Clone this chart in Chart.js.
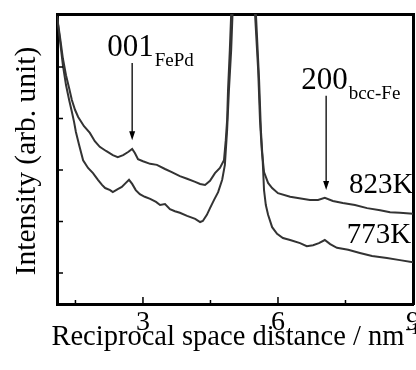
<!DOCTYPE html>
<html>
<head>
<meta charset="utf-8">
<script src="https://cdn.jsdelivr.net/npm/chart.js@4.4.1/dist/chart.umd.min.js"></script>
<style>
  html, body { margin: 0; padding: 0; background: #fff; overflow: hidden; }
</style>
</head>
<body>
<canvas id="chart" width="416" height="370"></canvas>
<script>
// x: reciprocal space distance (nm^-1), y: intensity (arb. unit)
const X_MIN = 1.09, X_MAX = 9.0;
const Y_MIN = -0.602, Y_MAX = 5.03;

const xTickLabels = [3, 6, 9];
const xMinorTicks = [1.5, 4.5, 7.5];
const yTicks = [0, 1, 2, 3, 4];

const x823 = [1.09,1.16,1.22,1.29,1.36,1.42,1.49,1.56,1.69,1.82,1.93,2.04,2.18,2.33,2.44,2.56,2.67,2.76,2.82,2.89,
              3.00,3.16,3.31,3.49,3.64,3.82,3.98,4.16,4.27,4.38,4.49,4.60,4.71,4.80,4.84,4.87,4.89,4.93,4.96,5.22,
              5.49,5.56,5.60,5.64,5.69,5.78,5.87,6.00,6.27,6.71,6.89,7.04,7.22,7.44,7.71,7.98,8.27,8.49,8.71,9.00];
const y823 = [4.99,4.56,4.17,3.84,3.59,3.36,3.17,3.03,2.85,2.72,2.56,2.45,2.37,2.29,2.25,2.29,2.35,2.41,2.33,2.21,
              2.17,2.12,2.10,2.02,1.96,1.88,1.83,1.77,1.73,1.71,1.79,1.94,2.04,2.19,2.58,2.97,3.55,4.33,5.03,9.0,
              5.03,3.94,2.97,2.39,1.96,1.75,1.65,1.55,1.48,1.42,1.42,1.46,1.40,1.36,1.32,1.26,1.22,1.18,1.17,1.15];

const x773 = [1.09,1.16,1.22,1.29,1.36,1.42,1.47,1.51,1.58,1.67,1.78,1.89,2.00,2.09,2.16,2.27,2.33,2.44,2.53,2.62,
              2.69,2.76,2.84,2.93,3.04,3.16,3.29,3.38,3.49,3.60,3.71,3.82,3.98,4.16,4.27,4.33,4.42,4.49,4.58,4.67,
              4.76,4.82,4.87,4.91,4.96,4.99,5.22,5.51,5.58,5.62,5.66,5.69,5.73,5.78,5.87,5.98,6.11,6.27,6.49,6.64,
              6.78,6.91,7.04,7.16,7.31,7.56,7.82,8.09,8.42,8.71,9.00];
const y773 = [4.99,4.49,4.04,3.65,3.36,3.13,2.93,2.74,2.49,2.19,2.04,1.94,1.81,1.71,1.65,1.61,1.57,1.63,1.67,1.75,
              1.81,1.73,1.61,1.53,1.48,1.44,1.38,1.32,1.34,1.24,1.20,1.17,1.11,1.05,0.99,1.01,1.13,1.26,1.42,1.57,
              1.81,2.10,2.78,3.55,4.33,5.03,9.0,5.03,3.75,2.78,2.19,1.61,1.32,1.13,0.89,0.76,0.68,0.64,0.58,0.52,
              0.54,0.58,0.64,0.56,0.49,0.45,0.39,0.33,0.29,0.25,0.21];

// peak markers (arrow x, arrow top, arrow tip)
const peakNames = ['001', '200'];
const peakPhases = ['FePd', 'bcc-Fe'];
const peakX = [2.76, 7.07];
const arrowFrom = [4.08, 3.44];
const arrowTo = [2.58, 1.61];

const tempNames = ['823K', '773K'];
const tempX = [7.58, 7.53];
const tempY = [1.55, 0.58];

const SERIF = '"Liberation Serif", "Times New Roman", serif';

const toXY = (xs, ys) => xs.map((v, i) => ({ x: v, y: ys[i] }));

const decor = {
  id: 'decor',
  afterDraw(chart) {
    const { ctx, chartArea: a } = chart;
    const x = chart.scales.x, y = chart.scales.y;
    ctx.save();
    ctx.strokeStyle = '#000';
    ctx.fillStyle = '#000';

    // inward ticks
    ctx.lineWidth = 1.5;
    ctx.beginPath();
    xTickLabels.forEach(v => { const p = x.getPixelForValue(v); ctx.moveTo(p, a.bottom); ctx.lineTo(p, a.bottom - 7); });
    xMinorTicks.forEach(v => { const p = x.getPixelForValue(v); ctx.moveTo(p, a.bottom); ctx.lineTo(p, a.bottom - 4); });
    yTicks.forEach(v => { const p = y.getPixelForValue(v); ctx.moveTo(a.left, p); ctx.lineTo(a.left + 6, p); });
    ctx.stroke();

    // arrows + peak labels
    peakNames.forEach((name, i) => {
      const px = x.getPixelForValue(peakX[i]);
      const top = y.getPixelForValue(arrowFrom[i]);
      const tip = y.getPixelForValue(arrowTo[i]);
      ctx.lineWidth = 1.3;
      ctx.beginPath();
      ctx.moveTo(px, top);
      ctx.lineTo(px, tip - 6);
      ctx.stroke();
      ctx.beginPath();
      ctx.moveTo(px - 3, tip - 9);
      ctx.lineTo(px + 3, tip - 9);
      ctx.lineTo(px, tip);
      ctx.closePath();
      ctx.fill();

      ctx.textAlign = 'left';
      ctx.textBaseline = 'alphabetic';
      ctx.font = '31px ' + SERIF;
      const tx = px - 25, ty = top - 7;
      ctx.fillText(name, tx, ty);
      const w = ctx.measureText(name).width;
      ctx.font = '19px ' + SERIF;
      ctx.fillText(peakPhases[i], tx + w + 1, ty + 10);
    });

    // temperature labels
    ctx.font = '29px ' + SERIF;
    tempNames.forEach((t, i) => {
      ctx.fillText(t, x.getPixelForValue(tempX[i]), y.getPixelForValue(tempY[i]));
    });

    // axis titles
    ctx.font = '28.5px ' + SERIF;
    const main = 'Reciprocal space distance / nm';
    const mw = ctx.measureText(main).width;
    ctx.font = '17px ' + SERIF;
    const sup = '-1';
    const sw = ctx.measureText(sup).width;
    const cx = (a.left + a.right) / 2;
    const sx = cx - (mw + sw) / 2;
    ctx.font = '28.5px ' + SERIF;
    ctx.fillText(main, sx, 345);
    ctx.font = '17px ' + SERIF;
    ctx.fillText(sup, sx + mw + 1, 334);

    ctx.font = '29.5px ' + SERIF;
    ctx.textAlign = 'center';
    ctx.translate(35, (a.top + a.bottom) / 2 + 2);
    ctx.rotate(-Math.PI / 2);
    ctx.fillText('Intensity (arb. unit)', 0, 0);
    ctx.restore();
  }
};

const frameAxis = (pos, fit) => ({
  type: 'linear', position: pos, display: true,
  ticks: { display: false },
  grid: { display: false, drawTicks: false },
  border: { color: '#000', width: 3 },
  afterFit: fit
});

new Chart(document.getElementById('chart'), {
  type: 'line',
  data: {
    datasets: [
      { label: '823K', data: toXY(x823, y823), borderColor: '#333', borderWidth: 2, pointRadius: 0, tension: 0 },
      { label: '773K', data: toXY(x773, y773), borderColor: '#333', borderWidth: 2, pointRadius: 0, tension: 0 }
    ]
  },
  options: {
    responsive: false,
    animation: false,
    layout: { padding: { left: 57, top: 14, right: 3, bottom: 0 } },
    plugins: { legend: { display: false }, tooltip: { enabled: false } },
    scales: {
      x: {
        type: 'linear', min: X_MIN, max: X_MAX,
        ticks: { font: { family: SERIF, size: 28 }, color: '#000', padding: 2, maxRotation: 0, autoSkip: false },
        grid: { display: false, drawTicks: false },
        border: { color: '#000', width: 3 },
        afterBuildTicks: s => { s.ticks = xTickLabels.map(v => ({ value: v })); },
        afterFit: s => { s.height = 66; s.paddingLeft = 0; s.paddingRight = 0; }
      },
      y: {
        type: 'linear', min: Y_MIN, max: Y_MAX,
        ticks: { display: false },
        grid: { display: false, drawTicks: false },
        border: { color: '#000', width: 3 },
        afterFit: s => { s.width = 0; }
      },
      x2: frameAxis('top', s => { s.height = 0; }),
      y2: frameAxis('right', s => { s.width = 0; })
    }
  },
  plugins: [decor]
});
</script>
</body>
</html>
